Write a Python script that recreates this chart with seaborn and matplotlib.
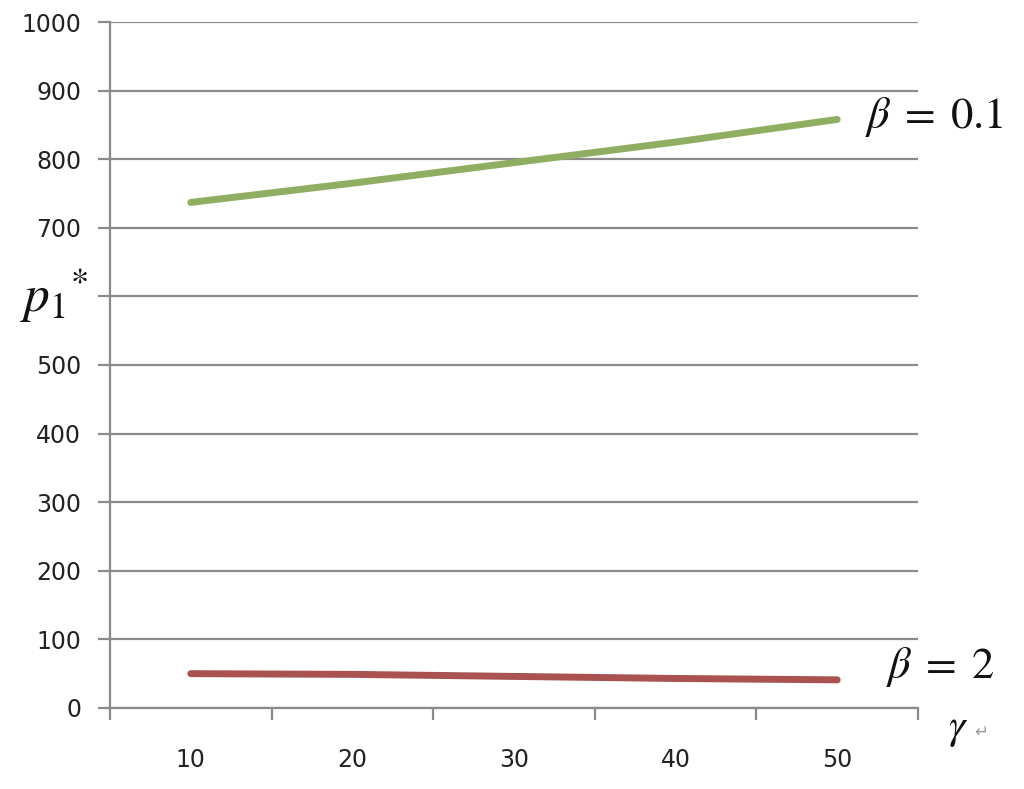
import numpy as np
import pandas as pd
import matplotlib
matplotlib.use('Agg')
import matplotlib.pyplot as plt
import seaborn as sns

# datos
gamma = ["10", "20", "30", "40", "50"]
p1_beta01 = [737, 765, 795, 825, 858]
p1_beta2 = [50, 49, 46, 43, 41]
y_ticks = [0, 100, 200, 300, 400, 500, 600, 700, 800, 900, 1000]
# la etiqueta 600 queda tapada por p1* en el original
y_labels = ["0", "100", "200", "300", "400", "500", "", "700", "800", "900", "1000"]

x_pos = np.arange(len(gamma))
df = pd.DataFrame({
    "x": np.concatenate([x_pos, x_pos]),
    "p1": p1_beta01 + p1_beta2,
    "beta": ["0.1"] * len(gamma) + ["2"] * len(gamma),
})

sns.set_theme(style="white")
plt.rcParams['font.family'] = ['DejaVu Sans']
plt.rcParams['mathtext.fontset'] = 'stix'

fig = plt.figure(figsize=(10.24, 7.89), dpi=100)
ax = fig.add_axes([0.1074, 0.1027, 0.8965 - 0.1074, 0.9721 - 0.1027])

sns.lineplot(data=df, x="x", y="p1", hue="beta",
             palette={"0.1": "#8fae62", "2": "#a9524f"},
             linewidth=5, legend=False, ax=ax)

ax.set_xlim(-0.5, len(gamma) - 0.5)
ax.set_ylim(0, 1000)
ax.set_yticks(y_ticks)
ax.set_yticklabels(y_labels)
ax.set_xticks(x_pos)
ax.set_xticklabels(gamma)
ax.set_xticks(np.arange(len(gamma) + 1) - 0.5, minor=True)

grid_c = "#8a8a8a"
ax.yaxis.grid(True, color=grid_c, linewidth=1.6)
ax.xaxis.grid(False)
ax.set_axisbelow(True)
for s in ["top", "right"]:
    ax.spines[s].set_visible(False)
for s in ["left", "bottom"]:
    ax.spines[s].set_color(grid_c)
    ax.spines[s].set_linewidth(1.6)

ax.tick_params(axis="y", which="major", length=8.6, width=1.6, color=grid_c,
               pad=12, labelsize=17, labelcolor="#222222", left=True)
ax.tick_params(axis="x", which="major", length=0, pad=29, labelsize=17,
               labelcolor="#222222")
ax.tick_params(axis="x", which="minor", length=8.6, width=1.6, color=grid_c,
               bottom=True)

ax.set_xlabel("")
ax.set_ylabel("")

fig.text(0.020, 0.625, r"$p_1{}^{*}$", fontsize=37, color="#111111",
         ha="left", va="center")
fig.text(0.926, 0.077, r"$\gamma$", fontsize=30, color="#111111",
         ha="left", va="center")
fig.text(0.951, 0.073, "↵", fontsize=12, color="#999999",
         ha="left", va="center")

ax.text(4.17, 862, r"$\beta\;=\;0.1$", fontsize=32, color="#111111",
        ha="left", va="center")
ax.text(4.30, 60, r"$\beta\;=\;2$", fontsize=32, color="#111111",
        ha="left", va="center", clip_on=False)

plt.savefig("out.png", dpi=100)
plt.close()
